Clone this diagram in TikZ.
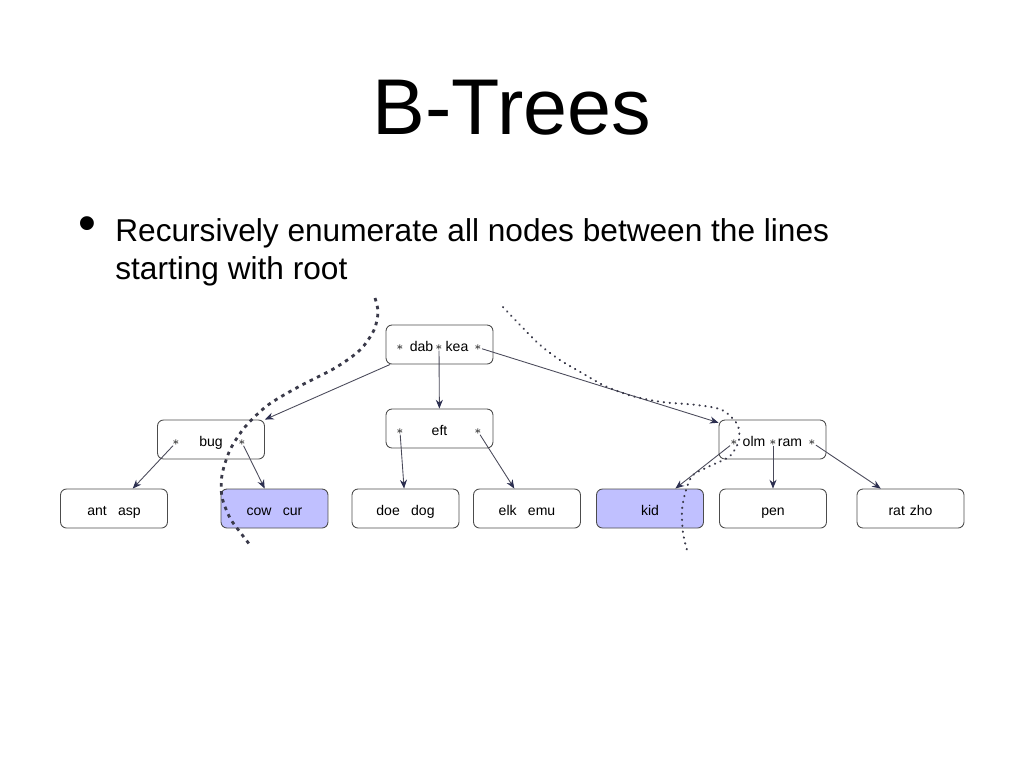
\documentclass[tikz,border=0pt]{standalone}
\usepackage{fontspec}
\setmainfont{Liberation Sans}
\usetikzlibrary{arrows.meta}
\definecolor{edgegray}{HTML}{4A4A5A}
\definecolor{tipnavy}{HTML}{2C2F50}
\definecolor{hitblue}{HTML}{C0C0FF}
\definecolor{cutgray}{HTML}{3A3A4A}
\tikzset{
  keybox/.style={draw=black!70, rounded corners=0.12cm, minimum width=2.14cm,
    minimum height=0.78cm, line width=0.5pt, inner sep=0pt,
    text height=8pt, text depth=0pt,
    font=\fontsize{8}{9}\selectfont},
  hitbox/.style={keybox, fill=hitblue},
  keytxt/.style={inner sep=0pt, text height=8pt, text depth=0pt,
    font=\fontsize{8}{9}\selectfont},
  ptr/.style={inner sep=0pt, font=\fontsize{7}{7}\selectfont},
  link/.style={edgegray, line width=0.5pt,
    -{Stealth[length=5pt,width=4pt,fill=tipnavy,color=tipnavy]}},
  leftcut/.style={cutgray, line width=1.6pt, dash pattern=on 2pt off 2.6pt},
  rightcut/.style={cutgray, line width=1.2pt, line cap=round, dash pattern=on 0.2pt off 3.2pt}
}
\begin{document}
\begin{tikzpicture}[x=0.02cm,y=-0.02cm]
\useasboundingbox (0,0) rectangle (1024,768);
\node[inner sep=0pt,font=\fontsize{45}{54}\selectfont] (title) at (512,108) {B-Trees};
\node[inner sep=0pt,anchor=base,font=\fontsize{29}{30}\selectfont] (dot) at (87,240.5) {•};
\node[inner sep=0pt,anchor=base west,font=\fontsize{18}{22}\selectfont] (line1) at (115,241) {Recursively enumerate all nodes between the lines};
\node[inner sep=0pt,anchor=base west,font=\fontsize{18}{22}\selectfont] (line2) at (115,279) {starting with root};
\node[keybox] (root) at (439.5,344.5) {};
\node[keybox] (bug) at (211,439.5) {};
\node[keybox] (eft) at (439.5,428.5) {};
\node[keybox] (olm) at (772.5,439.5) {};
\node[keybox] (ant) at (114,508.5) {ant\hspace{0.8em}asp};
\node[hitbox] (cow) at (274.5,508.5) {cow\hspace{0.8em}cur};
\node[keybox] (doe) at (405.5,508.5) {doe\hspace{0.8em}dog};
\node[keybox] (elk) at (527,508.5) {elk\hspace{0.8em}emu};
\node[hitbox] (kid) at (650,508.5) {kid};
\node[keybox] (pen) at (773,508.5) {pen};
\node[keybox] (rat) at (910.5,508.5) {rat\hspace{0.35em}zho};
\node[ptr] (r1) at (400,347.5) {$\ast$};
\node[keytxt] (dab) at (421.5,344.5) {dab};
\node[ptr] (r2) at (439,347.5) {$\ast$};
\node[keytxt] (kea) at (457,344.5) {kea};
\node[ptr] (r3) at (478,347.5) {$\ast$};
\node[ptr] (b1) at (176,442.5) {$\ast$};
\node[keytxt] (bugk) at (211,439.5) {bug};
\node[ptr] (b2) at (242,442.5) {$\ast$};
\node[ptr] (e1) at (400,431.5) {$\ast$};
\node[keytxt] (eftk) at (439.5,428.5) {eft};
\node[ptr] (e2) at (478,431.5) {$\ast$};
\node[ptr] (o1) at (734,442.5) {$\ast$};
\node[keytxt] (olmk) at (754,439.5) {olm};
\node[ptr] (o2) at (773,442.5) {$\ast$};
\node[keytxt] (ramk) at (790,439.5) {ram};
\node[ptr] (o3) at (812,442.5) {$\ast$};
\draw[link] (root.202) -- (bug.north east);
\draw[link] (r2) -- (eft);
\draw[link] (r3) -- (olm);
\draw[link] (b1) -- (ant);
\draw[link] (b2) -- (cow);
\draw[link] (e1) -- (doe);
\draw[link] (e2) -- (elk);
\draw[link] (o1) -- (kid);
\draw[link] (o2) -- (pen);
\draw[link] (o3) -- (rat);
\draw[leftcut] plot[smooth] coordinates {(375,298) (378,312) (374,330) (360,350) (335,368) (300,386) (268,405) (245,427) (230,450) (222,475) (222,497) (230,518) (240,532) (250,545)};
\draw[rightcut] plot[smooth] coordinates {(503,307) (520,325) (540,345) (560,360) (582,373) (605,386) (632,396) (662,402) (697,405) (722,410) (737,424) (739,440) (730,456) (710,466) (693,475) (686,490) (682,510) (683,533) (687,550)};
\end{tikzpicture}
\end{document}
